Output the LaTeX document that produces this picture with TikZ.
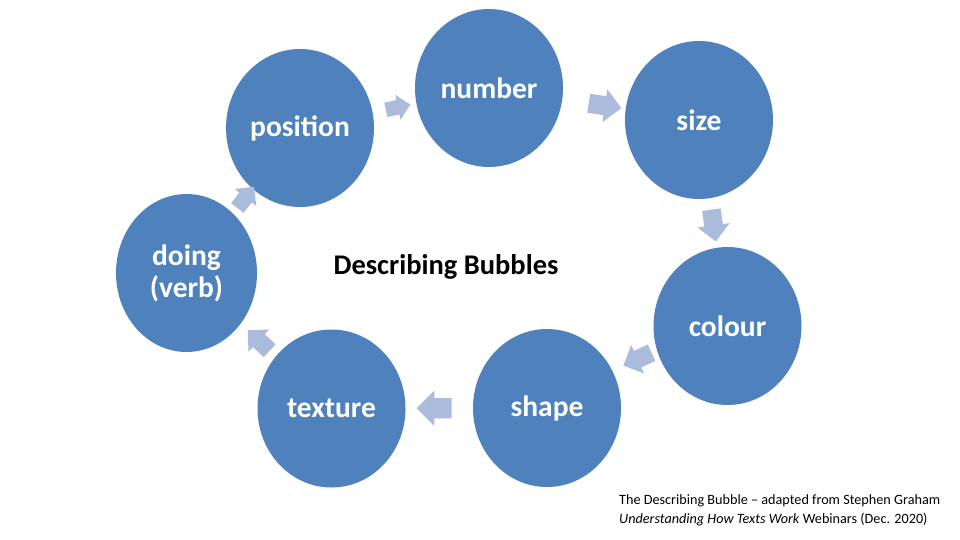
\documentclass[tikz,border=0pt]{standalone}
\usepackage{fontspec}
\setmainfont{Carlito}
\usetikzlibrary{shapes.geometric,shapes.arrows}
\definecolor{bubble}{HTML}{4F81BD}
\definecolor{flow}{HTML}{AABBDB}
\begin{document}
\begin{tikzpicture}[x=1pt,y=-1pt,
  bubble/.style={ellipse, fill=bubble, draw=none, minimum width=148pt, minimum height=158pt,
    inner sep=0pt, text=white, font=\fontsize{29.5}{32}\selectfont\bfseries, align=center},
  flowarrow/.style={single arrow, fill=flow, draw=none, inner xsep=0pt,
    inner ysep={0.285*#1}, single arrow head extend={0.215*#1}, minimum height=#1,
    sloped, allow upside down, anchor=center},
  ]
\useasboundingbox (0,0) rectangle (960,540);
\node[bubble] (pos) at (300,128) {position};
\node[bubble] (num) at (489,88) {number};
\node[bubble] (siz) at (699,120) {size};
\node[bubble] (col) at (727.5,326) {colour};
\node[bubble] (shp) at (547,408) {shape};
\node[bubble] (tex) at (331.5,408.5) {texture};
\node[bubble, minimum width=141pt] (doi) at (186.5,273) {doing\\(verb)};
\node[font=\fontsize{28.5}{32}\selectfont\bfseries] (title) at (446,267) {Describing Bubbles};
\path (pos.center) -- (num.center) node[flowarrow=25pt, pos=0.5] (a1) {};
\path (num.center) -- (siz.center) node[flowarrow=33pt, pos=0.53] (a2) {};
\path (siz.center) -- (col.center) node[flowarrow=32pt, pos=0.49] (a3) {};
\path (col.center) -- (shp.center) node[flowarrow=31pt, pos=0.46, yshift=-7pt] (a4) {};
\path (shp.center) -- (tex.center) node[flowarrow=35pt, pos=0.5] (a5) {};
\path (tex.center) -- (doi.center) node[flowarrow=30pt, pos=0.48] (a6) {};
\path (doi.center) -- (pos.center) node[flowarrow=27pt, pos=0.5] (a7) {};
\node[anchor=north west, inner sep=0pt, align=left, font=\fontsize{14.2}{19}\selectfont] (note) at (619,494.5)
  {The Describing Bubble -- adapted from Stephen Graham\\\textit{Understanding How Texts Work} Webinars (Dec. 2020)};
\end{tikzpicture}
\end{document}
